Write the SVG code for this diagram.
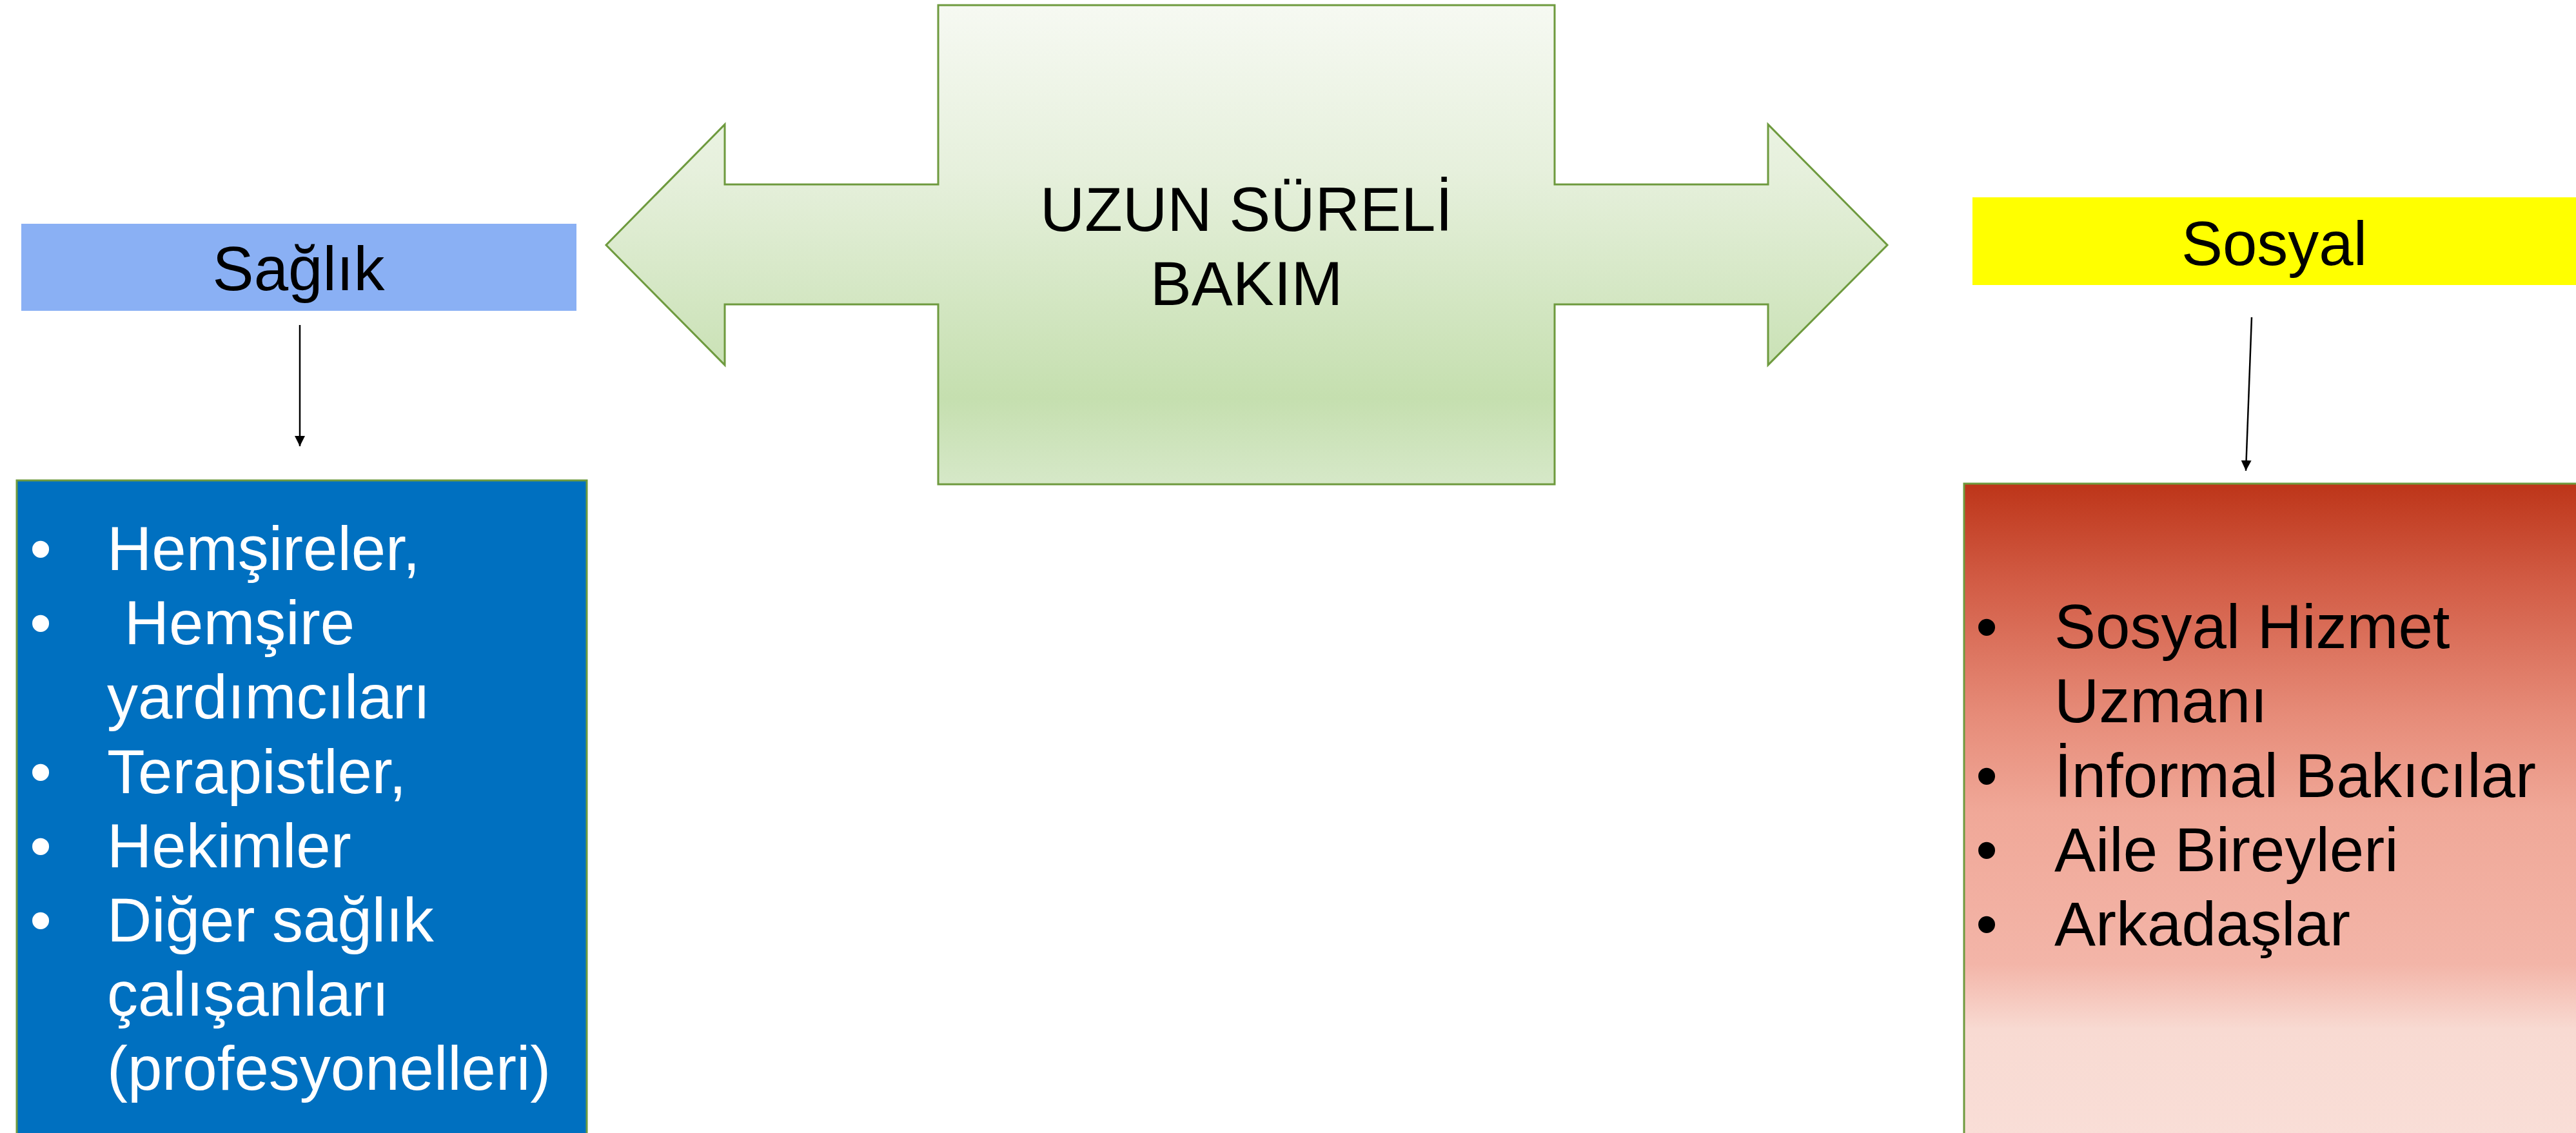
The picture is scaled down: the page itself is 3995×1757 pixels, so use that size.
<svg xmlns="http://www.w3.org/2000/svg" width="3995" height="1757" viewBox="0 0 3995 1757">
<defs>
<linearGradient id="gGreen" x1="0" y1="0" x2="0" y2="1">
<stop offset="0" stop-color="#F6F9F2"/>
<stop offset="0.35" stop-color="#E6F0DC"/>
<stop offset="0.82" stop-color="#C5DFAF"/>
<stop offset="1" stop-color="#D6E8C8"/>
</linearGradient>
<linearGradient id="gRed" x1="0" y1="0" x2="0" y2="1">
<stop offset="0" stop-color="#BD3519"/>
<stop offset="0.15" stop-color="#D25C45"/>
<stop offset="0.35" stop-color="#E68B78"/>
<stop offset="0.5" stop-color="#F0A898"/>
<stop offset="0.73" stop-color="#F3B5A8"/>
<stop offset="0.83" stop-color="#F8DAD2"/>
<stop offset="1" stop-color="#F9DED7"/>
</linearGradient>
<marker id="ah" viewBox="0 0 10 10" refX="10" refY="5" markerWidth="8" markerHeight="8" markerUnits="userSpaceOnUse" orient="auto">
<path d="M0,0 L10,5 L0,10 z" fill="#000"/>
</marker>
<marker id="ahb" viewBox="0 0 16 16" refX="16" refY="8" markerWidth="16" markerHeight="16" markerUnits="userSpaceOnUse" orient="auto">
<path d="M0,0 L16,8 L0,16 z" fill="#000"/>
</marker>
</defs>
<style>
.t{font-family:"Liberation Sans",Arial,sans-serif;font-size:96px}
.w{fill:#FFFFFF}
.k{fill:#000000}
.edge{stroke:#6E9A3E;stroke-width:3}
.conn{stroke:#000;stroke-width:2.5;fill:none}
</style>
<rect width="3995" height="1757" fill="#FFFFFF"/>

<g id="center-arrow">
<path class="edge" fill="url(#gGreen)" d="M1455,8 L2411,8 L2411,286 L2742,286 L2742,193 L2927,380 L2742,566 L2742,472 L2411,472 L2411,751 L1455,751 L1455,472 L1124,472 L1124,566 L940,380 L1124,193 L1124,286 L1455,286 Z"/>
<text class="t k" x="1933" y="358" text-anchor="middle">UZUN SÜRELİ</text>
<text class="t k" x="1933" y="473" text-anchor="middle">BAKIM</text>
</g>

<g id="saglik">
<rect x="33" y="347" width="861" height="135" fill="#8AB0F4"/>
<text class="t k" x="463" y="450" text-anchor="middle">Sağlık</text>
</g>

<g id="sosyal">
<rect x="3059" y="306" width="940" height="136" fill="#FFFF00"/>
<text class="t k" x="3527" y="411" text-anchor="middle">Sosyal</text>
</g>

<g id="saglik-list">
<rect class="edge" x="26" y="745" width="884" height="1020" fill="#0070C0"/>
<g class="t w">
<text x="63" y="884" text-anchor="middle">•</text>
<text x="166" y="884">Hemşireler,</text>
<text x="63" y="999" text-anchor="middle">•</text>
<text x="166" y="999" xml:space="preserve"> Hemşire</text>
<text x="166" y="1114">yardımcıları</text>
<text x="63" y="1230" text-anchor="middle">•</text>
<text x="166" y="1230">Terapistler,</text>
<text x="63" y="1345" text-anchor="middle">•</text>
<text x="166" y="1345">Hekimler</text>
<text x="63" y="1460" text-anchor="middle">•</text>
<text x="166" y="1460">Diğer sağlık</text>
<text x="166" y="1575">çalışanları</text>
<text x="166" y="1690">(profesyonelleri)</text>
</g>
</g>

<g id="sosyal-list">
<rect class="edge" x="3046" y="750" width="960" height="1020" fill="url(#gRed)"/>
<g class="t k">
<text x="3081" y="1005" text-anchor="middle">•</text>
<text x="3186" y="1005">Sosyal Hizmet</text>
<text x="3186" y="1120">Uzmanı</text>
<text x="3081" y="1236" text-anchor="middle">•</text>
<text x="3186" y="1236">İnformal Bakıcılar</text>
<text x="3081" y="1351" text-anchor="middle">•</text>
<text x="3186" y="1351">Aile Bireyleri</text>
<text x="3081" y="1466" text-anchor="middle">•</text>
<text x="3186" y="1466">Arkadaşlar</text>
</g>
</g>

<g id="connectors">
<line class="conn" x1="465" y1="504" x2="465" y2="692" marker-end="url(#ahb)"/>
<line class="conn" x1="3492" y1="492" x2="3483" y2="730" marker-end="url(#ahb)"/>
</g>
</svg>
